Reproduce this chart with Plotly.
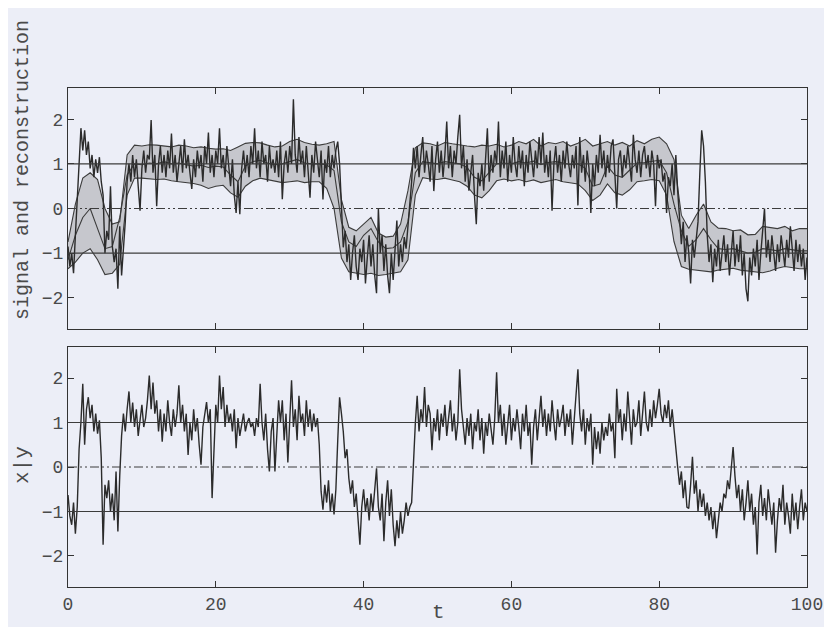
import numpy as np
import plotly.graph_objects as go

# ---------------- data ----------------
DT_FINE = 0.25   # sampling step of the noisy traces (t units)
DT_BAND = 1.0    # sampling step of the reconstruction band

# top panel: noisy signal, t = 0 .. 100 step 0.25 (one row per unit of t)
signal_top = [
    -0.85, -1.3, -1.0, -1.45,
    -0.6, 0.2, 1.1, 1.8,
    1.3, 1.75, 1.2, 1.5,
    0.9, 1.2, 0.7, 1.1,
    0.8, 1.15, 0.6, 0.3,
    -1.0, -0.5, -0.7, 0.5,
    -0.85, -1.2, -0.9, -1.8,
    -0.4, -1.5, -0.9, -0.3,
    0.6, 1.0, 0.6, 1.2,
    0.7, 1.1, 0.5, -0.05,
    0.9, 1.3, 0.8, 1.2,
    1.1, 1.98, 0.8, 1.2,
    0.05, 1.0, 1.4, 0.8,
    1.2, 0.7, 1.3, 0.9,
    1.68, 0.8, 1.2, 0.6,
    1.0, 1.4, 0.8, 1.55,
    0.9, 1.2, 0.8, 0.44,
    1.1, 0.7, 1.3, 0.9,
    1.2, 0.6, 1.4, 1.0,
    1.7, 0.8, 1.2, 0.7,
    1.3, 1.0, 1.8, 0.9,
    1.2, 0.7, 1.4, 0.9,
    0.5, 1.1, 0.3, -0.1,
    0.6, -0.13, 0.9, 1.3,
    0.8, 1.2, 0.7, 1.4,
    1.0, 1.8, 0.9, 1.3,
    0.7, 1.5, 1.0, 1.2,
    0.6, 1.4, 0.9, 1.1,
    0.8, 1.3, 0.7, 1.5,
    0.21, 1.0, 1.3, 0.8,
    1.4, 1.0, 2.45, 1.2,
    0.8, 1.6, 1.0, 1.3,
    0.7, 1.4, 0.9, 0.24,
    1.2, 0.8, 1.5, 1.0,
    0.7, 1.3, 0.2, 1.1,
    0.8, 1.4, 0.7, 1.2,
    0.9, 1.3, 1.5, 1.0,
    0.2, -0.87, -0.5, -1.2,
    -0.8, -1.6, -1.0, -0.6,
    -1.3, -1.6, -0.9, -1.2,
    -0.7, -1.68, -1.1, -0.6,
    -1.3, -0.8, -1.5, -1.9,
    0.0, -1.0, -0.6, -1.4,
    -0.8, -1.5, -1.9, -1.0,
    -1.6, -0.9, -0.27, -1.3,
    -0.8, -1.2, -0.64, -0.9,
    -0.4, 0.2, 0.6, 1.36,
    0.9, 1.4, 0.7, 1.2,
    1.6, 0.8, 1.3, 1.0,
    0.6, 1.4, 0.39, 1.1,
    1.5, 0.8, 1.3, 0.7,
    1.2, 1.95, 0.9, 1.4,
    0.7, 1.3, 1.0, 1.6,
    2.1, 0.9, 1.4, 0.6,
    1.1, 0.4, 0.9, 1.2,
    0.3, -0.35, 0.8, 0.5,
    1.0, 0.4, 1.1, 1.8,
    0.6, 1.2, 0.8, 1.3,
    1.0, 1.95, 0.7, 1.3,
    0.9, 1.5, 0.6, 1.2,
    0.8, 1.6, 1.0, 0.7,
    1.4, 0.9, 1.3, 0.5,
    1.2, 0.8, 1.5, 1.0,
    0.7, 1.3, 0.9, 1.6,
    1.0, 1.7, 0.8, 1.2,
    0.7, 1.3, -0.05, 1.0,
    1.4, 0.8, 1.2, 0.6,
    1.3, 0.9, 1.5, 1.0,
    0.7, 1.2, 0.9, 1.4,
    0.07, 1.6, 0.8, 1.2,
    0.6, 1.3, 0.9, -0.1,
    1.0, 0.5, 1.2, 0.8,
    1.65, 0.9, 1.3, 0.7,
    1.2, 0.8, 1.4, 1.55,
    0.9, 0.0, 1.1, 1.3,
    0.7, 1.2, 0.9, 1.4,
    1.0, 0.6, 1.65, 1.1,
    0.8, 1.3, 0.7, 1.2,
    1.4, 0.9, 1.2, 0.7,
    1.3, 1.0, 0.05, 1.2,
    0.9, 1.1, 0.6, 0.8,
    -0.1, 0.7, 0.5, 1.0,
    0.3, 1.2, 0.4, -0.3,
    -0.8, -0.3, -1.2, -0.6,
    -1.0, -1.68, -0.7, -1.1,
    -0.6, -0.3, 0.8, 1.75,
    1.4, 0.6, -0.6, -1.2,
    -0.8, -1.65, -0.9, -1.3,
    -0.7, -1.4, -1.0, -0.6,
    -1.2, -0.8, -1.5, -0.9,
    -0.5, -1.3, -0.8, -1.2,
    -0.6, -1.5, -1.0, -1.8,
    -2.08, -1.1, -1.5, -0.9,
    -1.3, -0.7, -1.6, -1.0,
    -0.5, 0.0, -1.1, -0.7,
    -1.2, -0.6, -1.0, -1.4,
    -0.8, -1.2, -0.6, -1.0,
    -1.3, -0.7, -1.1, -0.4,
    -1.0, -1.4, -0.7, -1.2,
    -0.8, -1.3, -0.9, -1.6,
    -1.1,
]

# bottom panel: observation x|y, t = 0 .. 100 step 0.25
obs_bottom = [
    -0.63, -1.1, -1.3, -0.8,
    -1.5, -0.9, 0.4, 1.0,
    1.87, 0.5, 1.3, 1.57,
    1.1, 1.4, 0.8, 1.2,
    0.75, 1.05, 0.2, -1.75,
    -0.4, -0.7, -0.3, -1.0,
    -0.6, -1.2, -0.1, -1.45,
    -0.2, 0.7, 1.2, 0.8,
    1.3, 1.7, 1.0, 1.45,
    0.9, 1.3, 0.7, 1.1,
    1.4, 0.9, 1.1, 1.5,
    2.06, 1.3, 1.9, 1.2,
    1.5, 0.8, 1.3, 0.57,
    1.2, 0.8, 1.5, 1.0,
    0.7, 1.3, 0.9, 1.2,
    1.84, 1.0, 1.4, 0.8,
    1.2, 0.27, 1.0, 0.6,
    1.3, 0.8, 1.1, 0.5,
    0.05, 0.9, 1.2, 1.46,
    1.0, 1.3, -0.7, 0.6,
    1.4, 1.0, 2.06, 1.3,
    1.8, 0.9, 1.4, 1.0,
    1.2, 0.8, 1.3, 0.42,
    1.1, 0.7, 1.0, 1.2,
    0.8, 1.0, 1.1, 0.9,
    1.0, 0.7, 1.1, 0.9,
    1.87, 1.0, 0.6, 1.2,
    0.4, -0.1, 0.8, 1.1,
    -0.1, 0.9, 1.5, 1.0,
    1.5, 0.6, 1.2, 0.1,
    1.2, 1.95, 0.9, 1.3,
    0.6, 1.6, 1.0, 1.2,
    0.7, 1.5, 0.9, 1.3,
    0.8, 1.2, 0.9, 1.1,
    0.5, -0.55, -0.96, -0.4,
    -0.8, -0.3, -1.0, -0.6,
    -1.07, -0.5, 0.6, 1.57,
    1.2, 0.8, 0.2, 0.4,
    -0.25, -0.6, -0.3, -0.9,
    -0.6, -1.1, -1.75, -0.9,
    -0.5, -1.0, -0.7, -1.2,
    -0.6, -1.0, -0.5, -0.03,
    -0.9, -1.2, -0.6, -1.67,
    -0.8, -0.3, -1.1, -0.5,
    -1.3, -1.78, -1.2, -1.6,
    -1.0, -1.5, -1.2, -0.8,
    -1.1, -0.9, -0.8, 0.3,
    0.98, 1.6, 0.8, 1.3,
    1.0, 1.8, 0.9, 1.4,
    1.2, 0.38, 1.1, 0.8,
    1.3, 0.6, 1.2, 0.9,
    1.4, 0.7, 1.1, 1.5,
    0.8, 1.2, 0.6, 1.0,
    2.2, 1.3, 0.9, 0.5,
    1.1, 0.7, 1.2, 0.4,
    1.0, 0.8, 1.3, 0.6,
    1.1, 0.3, 1.0, 0.7,
    1.2, 0.9, 0.5, 1.1,
    2.13, 1.0, 1.4, 0.7,
    1.2, 0.5, 1.0, 1.4,
    0.6, 1.1, 0.8, 1.3,
    0.9, 0.4, 1.2, 0.8,
    1.4, 0.7, 1.0, 0.05,
    0.9, 1.3, 0.6, 1.1,
    1.6, 0.9, 1.3, 0.7,
    1.2, 0.8, 1.5, 1.0,
    0.6, 1.3, 0.9, 1.1,
    1.4, 0.7, 1.2, 0.9,
    1.3, 0.5, 1.0, 1.5,
    2.2, 1.2, 0.8, 1.3,
    0.5, 1.1, 0.8, 1.2,
    0.05, 0.9, 0.4, 0.8,
    0.3, 1.0, 0.6, 0.9,
    0.7, 1.2, 0.8, 1.0,
    0.2, 1.76, 1.0, 1.3,
    0.6, 1.2, 0.8, 1.7,
    1.1, 0.5, 1.3, 0.9,
    1.0, 1.5, 0.7, 1.2,
    1.7, 1.0, 0.8, 1.3,
    0.9, 1.5, 1.1, 1.4,
    1.76, 1.2, 1.0, 1.4,
    1.1, 1.5, 0.9, 1.3,
    0.8, 0.4, 0.0, -0.4,
    -0.1, -0.7, -0.3, -0.9,
    -0.93, -0.4, 0.23, -0.6,
    -0.3, -1.0, -0.5, -0.9,
    -0.6, -1.1, -0.8, -1.2,
    -0.9, -1.4, -1.0, -1.6,
    -1.2, -0.8, -1.0, -0.6,
    -0.7, -0.3, -0.5, 0.0,
    0.45, -0.2, -0.7, -0.4,
    -1.0, -0.5, -1.2, -0.8,
    -0.3, -1.0, -0.6, -1.3,
    -0.9, -1.97, -0.8, -0.4,
    -1.1, -0.7, -1.2, -0.5,
    -0.9, -1.3, -0.8, -1.93,
    -1.2, -0.7, -1.0, -0.4,
    -1.3, -0.8, -1.1, -1.5,
    -0.6, -1.2, -0.8, -1.4,
    -0.9, -0.5, -1.2, -0.8,
    -1.0,
]

# reconstruction band, t = 0 .. 100 step 1
band_upper = [
    -0.75, 0.1, 0.68, 0.8, 0.65, 0.0, -0.35, -0.3, 1.2, 1.42,
    1.4, 1.43, 1.42, 1.4, 1.38, 1.42, 1.4, 1.36, 1.38, 1.35,
    1.33, 1.34, 1.3, 1.38, 1.46, 1.48, 1.47, 1.42, 1.38, 1.4,
    1.5, 1.55, 1.48, 1.44, 1.42, 1.45, 1.5, 0.2, -0.42, -0.5,
    -0.35, -0.2, -0.55, -0.64, -0.62, -0.35, 0.4, 1.36, 1.47, 1.45,
    1.4, 1.48, 1.45, 1.42, 1.4, 1.38, 1.42, 1.4, 1.44, 1.38,
    1.42, 1.5, 1.45, 1.55, 1.4, 1.48, 1.45, 1.5, 1.4, 1.46,
    1.55, 1.4, 1.45, 1.5, 1.42, 1.48, 1.4, 1.52, 1.45, 1.55,
    1.6, 1.45, 1.1, -0.15, -0.45, -0.15, 0.1, -0.3, -0.44, -0.45,
    -0.5, -0.48, -0.59, -0.58, -0.4, -0.42, -0.45, -0.4, -0.5, -0.45,
    -0.45,
]
band_lower = [
    -1.35, -1.2, -1.0, -0.9, -1.15, -1.48, -1.45, -1.25, 0.3, 0.68,
    0.68, 0.66, 0.65, 0.66, 0.62, 0.6, 0.58, 0.56, 0.52, 0.45,
    0.5, 0.52, 0.35, 0.25, 0.5, 0.62, 0.68, 0.65, 0.62, 0.58,
    0.6, 0.62, 0.58, 0.6, 0.6, 0.45, 0.0, -1.11, -1.42, -1.45,
    -1.48, -1.45, -1.5, -1.48, -1.45, -1.42, -1.15, 0.3, 0.69, 0.66,
    0.65, 0.68, 0.64, 0.6, 0.5, 0.3, 0.24, 0.4, 0.62, 0.66,
    0.62, 0.65, 0.6, 0.64, 0.58, 0.62, 0.65, 0.6, 0.58, 0.55,
    0.4, 0.18, 0.3, 0.55, 0.35, 0.3, 0.42, 0.6, 0.62, 0.65,
    0.62, 0.3, -0.74, -1.3, -1.36, -1.38, -1.4, -1.42, -1.38, -1.36,
    -1.34, -1.38, -1.4, -1.42, -1.44, -1.4, -1.34, -1.3, -1.32, -1.35,
    -1.35,
]
band_mid = [
    -1.15, -0.6, -0.2, 0.0, -0.45, -0.9, -0.85, -0.2, 0.75, 1.0,
    0.98, 1.02, 1.0, 1.05, 1.0, 1.02, 0.98, 0.95, 0.97, 0.92,
    0.95, 0.93, 0.75, 0.6, 0.95, 1.05, 1.08, 1.02, 0.98, 1.0,
    1.05, 1.1, 1.02, 1.0, 1.0, 0.98, 0.85, -0.3, -0.75, -0.85,
    -0.6, -0.45, -0.75, -0.9, -0.88, -0.75, -0.3, 0.8, 1.05, 1.02,
    1.0, 1.05, 1.03, 1.0, 0.92, 0.7, 0.62, 0.8, 1.0, 1.02,
    1.0, 1.05, 1.02, 1.06, 0.98, 1.03, 1.05, 1.02, 0.98, 1.0,
    0.9, 0.5, 0.55, 0.95, 0.75, 0.7, 0.85, 1.02, 1.03, 1.05,
    1.08, 0.8, 0.1, -0.5, -0.85, -0.7, -0.45, -0.7, -0.9, -0.92,
    -0.9, -0.95, -1.0, -0.98, -0.9, -0.92, -0.95, -0.9, -0.92, -0.95,
    -0.95,
]

ref_solid = [-1, 1]
ref_dashed = [0]
x_ticks = [0, 20, 40, 60, 80, 100]
y_ticks = [-2, -1, 0, 1, 2]
x_range = [0, 100]
y_range = [-2.7, 2.7]

# ---------------- styling ----------------
W, H = 832, 627
PAGE_OFF = 8   # the html page body offsets the figure by 8px
L_PX, R_PX, T_PX, B_PX = 68 - PAGE_OFF, 807 - PAGE_OFF, 88 - PAGE_OFF, 587 - PAGE_OFF
TOP_BOTTOM_PX, BOT_TOP_PX = 329 - PAGE_OFF, 347 - PAGE_OFF
BG = "#eceef7"
INK = "#2b2b2b"
EDGE = "#3c3c3c"
FILL = "#c6c7cd"
TXT = "#4a4a4a"
FONT = "Liberation Mono"

t_fine = np.arange(len(signal_top)) * DT_FINE
t_obs = np.arange(len(obs_bottom)) * DT_FINE
t_band = np.arange(len(band_upper)) * DT_BAND

plot_h = B_PX - T_PX
top_dom = [(B_PX - TOP_BOTTOM_PX) / plot_h, 1.0]
bot_dom = [0.0, (B_PX - BOT_TOP_PX) / plot_h]


def px_x(px):
    return (px - PAGE_OFF - L_PX) / (R_PX - L_PX)


def px_y(py):
    return (B_PX - (py - PAGE_OFF)) / plot_h


fig = go.Figure()

# band (top panel)
fig.add_trace(go.Scatter(x=t_band, y=band_lower, mode="lines", xaxis="x", yaxis="y",
                         line=dict(color=EDGE, width=1.1), hoverinfo="skip", showlegend=False))
fig.add_trace(go.Scatter(x=t_band, y=band_upper, mode="lines", xaxis="x", yaxis="y",
                         fill="tonexty", fillcolor=FILL,
                         line=dict(color=EDGE, width=1.1), hoverinfo="skip", showlegend=False))
fig.add_trace(go.Scatter(x=t_band, y=band_mid, mode="lines", xaxis="x", yaxis="y",
                         line=dict(color=EDGE, width=1.1), hoverinfo="skip", showlegend=False))
fig.add_trace(go.Scatter(x=t_fine, y=signal_top, mode="lines", xaxis="x", yaxis="y",
                         line=dict(color=INK, width=1.4), showlegend=False))

# bottom panel
fig.add_trace(go.Scatter(x=t_obs, y=obs_bottom, mode="lines", xaxis="x2", yaxis="y2",
                         line=dict(color=INK, width=1.4), showlegend=False))

# reference lines
shapes = []
for yref in ["y", "y2"]:
    xref = "x domain" if yref == "y" else "x2 domain"
    for lv in ref_solid:
        shapes.append(dict(type="line", xref=xref, yref=yref, x0=0, x1=1, y0=lv, y1=lv,
                           line=dict(color=EDGE, width=1.1), layer="above"))
    for lv in ref_dashed:
        shapes.append(dict(type="line", xref=xref, yref=yref, x0=0, x1=1, y0=lv, y1=lv,
                           line=dict(color=EDGE, width=1.0, dash="9px,3px,2px,3px,2px,3px"),
                           layer="above"))

axis_common = dict(showline=True, linecolor="#333333", linewidth=1.3, mirror="ticks",
                   ticks="inside", ticklen=6, tickwidth=1.1, tickcolor="#333333",
                   showgrid=False, zeroline=False,
                   tickfont=dict(family=FONT, size=18, color=TXT))

fig.update_layout(
    width=W, height=H,
    paper_bgcolor=BG, plot_bgcolor=BG,
    margin=dict(l=L_PX, r=W - R_PX, t=T_PX, b=H - B_PX),
    showlegend=False,
    xaxis=dict(domain=[0, 1], anchor="y", range=x_range, tickvals=x_ticks,
               showticklabels=False, **axis_common),
    yaxis=dict(domain=top_dom, anchor="x", range=y_range, tickvals=y_ticks, **axis_common),
    xaxis2=dict(domain=[0, 1], anchor="y2", range=x_range, tickvals=x_ticks, **axis_common),
    yaxis2=dict(domain=bot_dom, anchor="x2", range=y_range, tickvals=y_ticks, **axis_common),
    shapes=shapes,
    annotations=[
        dict(text="signal and reconstruction", xref="paper", yref="paper",
             x=px_x(22), y=px_y(170), textangle=-90, showarrow=False,
             xanchor="center", yanchor="middle",
             font=dict(family=FONT, size=20, color=TXT)),
        dict(text="x|y", xref="paper", yref="paper",
             x=px_x(22), y=px_y(465), textangle=-90, showarrow=False,
             xanchor="center", yanchor="middle",
             font=dict(family=FONT, size=21, color=TXT)),
        dict(text="t", xref="paper", yref="paper",
             x=px_x(438), y=px_y(612), showarrow=False,
             xanchor="center", yanchor="middle",
             font=dict(family=FONT, size=21, color=TXT)),
    ],
)

fig.write_html("out.html")
